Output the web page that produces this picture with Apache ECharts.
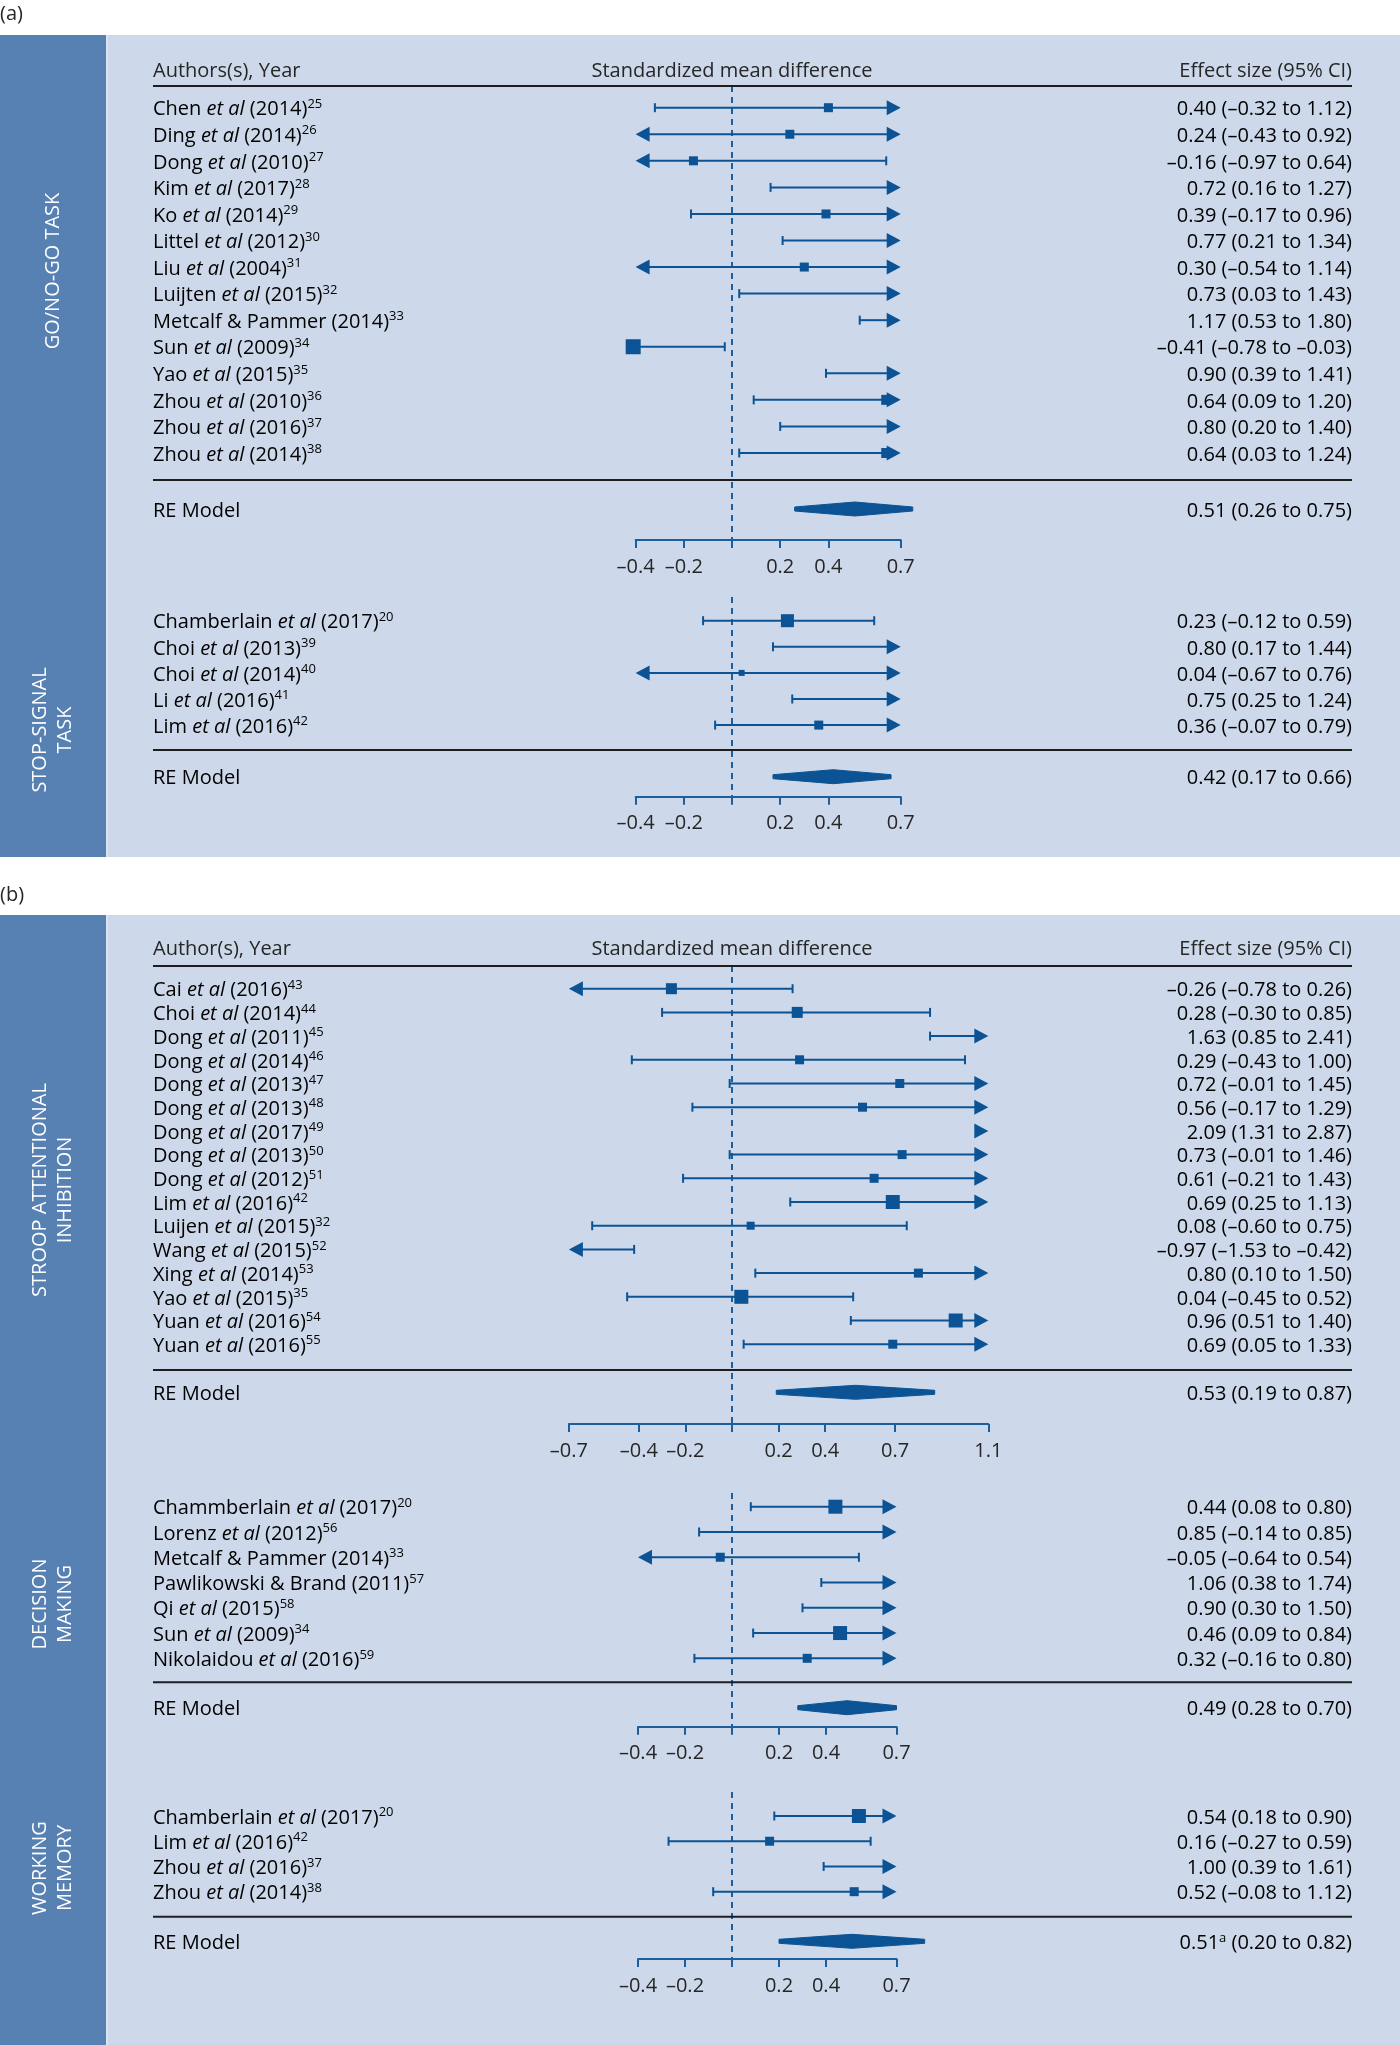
<!DOCTYPE html>
<html>
<head>
<meta charset="utf-8">
<script src="https://cdn.jsdelivr.net/npm/echarts@6/dist/echarts.min.js"></script>
<style>
  html, body { margin: 0; padding: 0; background: #ffffff; }
  #chart { width: 1400px; height: 2045px; }
</style>
</head>
<body>
<div id="chart"></div>
<script>
// ---------------- DATA ----------------
// (a) Go/No-Go task
const goNoGoLabels = ["Chen et al (2014)", "Ding et al (2014)", "Dong et al (2010)", "Kim et al (2017)", "Ko et al (2014)", "Littel et al (2012)", "Liu et al (2004)", "Luijten et al (2015)", "Metcalf & Pammer (2014)", "Sun et al (2009)", "Yao et al (2015)", "Zhou et al (2010)", "Zhou et al (2016)", "Zhou et al (2014)"];
const goNoGoRefs = [25, 26, 27, 28, 29, 30, 31, 32, 33, 34, 35, 36, 37, 38];
const goNoGoES = [0.40, 0.24, -0.16, 0.72, 0.39, 0.77, 0.30, 0.73, 1.17, -0.41, 0.90, 0.64, 0.80, 0.64];
const goNoGoLow = [-0.32, -0.43, -0.97, 0.16, -0.17, 0.21, -0.54, 0.03, 0.53, -0.78, 0.39, 0.09, 0.20, 0.03];
const goNoGoHigh = [1.12, 0.92, 0.64, 1.27, 0.96, 1.34, 1.14, 1.43, 1.80, -0.03, 1.41, 1.20, 1.40, 1.24];
const goNoGoWeight = [9, 9, 9, 9, 9, 9, 9, 9, 9, 15, 9, 10, 9, 10];
const goNoGoRE = [0.51, 0.26, 0.75];

// (a) Stop-signal task
const stopLabels = ["Chamberlain et al (2017)", "Choi et al (2013)", "Choi et al (2014)", "Li et al (2016)", "Lim et al (2016)"];
const stopRefs = [20, 39, 40, 41, 42];
const stopES = [0.23, 0.80, 0.04, 0.75, 0.36];
const stopLow = [-0.12, 0.17, -0.67, 0.25, -0.07];
const stopHigh = [0.59, 1.44, 0.76, 1.24, 0.79];
const stopWeight = [13, 9, 6, 9, 9];
const stopRE = [0.42, 0.17, 0.66];

// (b) Stroop attentional inhibition
const stroopLabels = ["Cai et al (2016)", "Choi et al (2014)", "Dong et al (2011)", "Dong et al (2014)", "Dong et al (2013)", "Dong et al (2013)", "Dong et al (2017)", "Dong et al (2013)", "Dong et al (2012)", "Lim et al (2016)", "Luijen et al (2015)", "Wang et al (2015)", "Xing et al (2014)", "Yao et al (2015)", "Yuan et al (2016)", "Yuan et al (2016)"];
const stroopRefs = [43, 44, 45, 46, 47, 48, 49, 50, 51, 42, 32, 52, 53, 35, 54, 55];
const stroopES = [-0.26, 0.28, 1.63, 0.29, 0.72, 0.56, 2.09, 0.73, 0.61, 0.69, 0.08, -0.97, 0.80, 0.04, 0.96, 0.69];
const stroopLow = [-0.78, -0.30, 0.85, -0.43, -0.01, -0.17, 1.31, -0.01, -0.21, 0.25, -0.60, -1.53, 0.10, -0.45, 0.51, 0.05];
const stroopHigh = [0.26, 0.85, 2.41, 1.00, 1.45, 1.29, 2.87, 1.46, 1.43, 1.13, 0.75, -0.42, 1.50, 0.52, 1.40, 1.33];
const stroopWeight = [11, 11, 9, 9, 9, 9, 9, 9, 9, 14, 8, 9, 9, 14, 14, 9];
const stroopRE = [0.53, 0.19, 0.87];

// (b) Decision making
const decisionLabels = ["Chammberlain et al (2017)", "Lorenz et al (2012)", "Metcalf & Pammer (2014)", "Pawlikowski & Brand (2011)", "Qi et al (2015)", "Sun et al (2009)", "Nikolaidou et al (2016)"];
const decisionRefs = [20, 56, 33, 57, 58, 34, 59];
const decisionES = [0.44, 0.85, -0.05, 1.06, 0.90, 0.46, 0.32];
const decisionLow = [0.08, -0.14, -0.64, 0.38, 0.30, 0.09, -0.16];
const decisionHigh = [0.80, 0.85, 0.54, 1.74, 1.50, 0.84, 0.80];
const decisionWeight = [14, 9, 9, 9, 9, 14, 9];
const decisionRE = [0.49, 0.28, 0.70];

// (b) Working memory
const memoryLabels = ["Chamberlain et al (2017)", "Lim et al (2016)", "Zhou et al (2016)", "Zhou et al (2014)"];
const memoryRefs = [20, 42, 37, 38];
const memoryES = [0.54, 0.16, 1.00, 0.52];
const memoryLow = [0.18, -0.27, 0.39, -0.08];
const memoryHigh = [0.90, 0.59, 1.61, 1.12];
const memoryWeight = [14, 9, 9, 9];
const memoryRE = [0.51, 0.20, 0.82];
const memoryRENote = "a";

// Axis ticks
const shortTicks = [-0.4, -0.2, 0, 0.2, 0.4, 0.7];
const shortTickLabels = [-0.4, -0.2, 0.2, 0.4, 0.7];
const longTicks = [-0.7, -0.4, -0.2, 0, 0.2, 0.4, 0.7, 1.1];
const longTickLabels = [-0.7, -0.4, -0.2, 0.2, 0.4, 0.7, 1.1];

// Side titles
const sideTitles = ["GO/NO-GO TASK", "STOP-SIGNAL\nTASK", "STROOP ATTENTIONAL\nINHIBITION", "DECISION\nMAKING", "WORKING\nMEMORY"];

// ---------------- LAYOUT / STYLE ----------------
const W = 1400, H = 2045;
const ZERO_X = 732;
const LABEL_X = 153, RIGHT_X = 1352;
const TEXT_DY = 2;
const FONT = '"Open Sans", "Noto Sans", sans-serif';
const TEXT = '#262626';
const MARK = '#0b5394';
const AXIS = '#1d5f9c';
const BG = '#cdd9ea';
const STRIP = '#5780b3';
const FS = 20;

const sections = [
  { labels: goNoGoLabels, refs: goNoGoRefs, es: goNoGoES, lo: goNoGoLow, hi: goNoGoHigh, w: goNoGoWeight, re: goNoGoRE, reNote: '',
    min: -0.4, max: 0.7, ppu: 241, ticks: shortTicks, tickLabels: shortTickLabels,
    first: 107.7, step: 26.56, top: 86, axisY: 540, reY: 509, sepY: 480, sideY: 271, title: sideTitles[0] },
  { labels: stopLabels, refs: stopRefs, es: stopES, lo: stopLow, hi: stopHigh, w: stopWeight, re: stopRE, reNote: '',
    min: -0.4, max: 0.7, ppu: 241, ticks: shortTicks, tickLabels: shortTickLabels,
    first: 620.7, step: 26.1, top: 597, axisY: 796.7, reY: 776.7, sepY: 750, sideY: 730, title: sideTitles[1] },
  { labels: stroopLabels, refs: stroopRefs, es: stroopES, lo: stroopLow, hi: stroopHigh, w: stroopWeight, re: stroopRE, reNote: '',
    min: -0.7, max: 1.1, ppu: 233, ticks: longTicks, tickLabels: longTickLabels,
    first: 988.7, step: 23.7, top: 966, axisY: 1424, reY: 1392.3, sepY: 1370, sideY: 1190, title: sideTitles[2] },
  { labels: decisionLabels, refs: decisionRefs, es: decisionES, lo: decisionLow, hi: decisionHigh, w: decisionWeight, re: decisionRE, reNote: '',
    min: -0.4, max: 0.7, ppu: 235, ticks: shortTicks, tickLabels: shortTickLabels,
    first: 1506.7, step: 25.27, top: 1493, axisY: 1726.7, reY: 1707.7, sepY: 1682.3, sideY: 1604, title: sideTitles[3] },
  { labels: memoryLabels, refs: memoryRefs, es: memoryES, lo: memoryLow, hi: memoryHigh, w: memoryWeight, re: memoryRE, reNote: memoryRENote,
    min: -0.4, max: 0.7, ppu: 235, ticks: shortTicks, tickLabels: shortTickLabels,
    first: 1816, step: 25.23, top: 1792, axisY: 1959, reY: 1941.3, sepY: 1916.7, sideY: 1868, title: sideTitles[4] }
];

function fmt(v) { return (v < 0 ? '\u2013' : '') + Math.abs(v).toFixed(2); }
function fmtTick(v) { return (v < 0 ? '\u2013' : '') + String(Math.abs(v)); }

const rich = {
  n: { fontFamily: FONT, fontSize: FS, color: TEXT, lineHeight: 24 },
  i: { fontFamily: FONT, fontSize: FS, color: TEXT, lineHeight: 24, fontStyle: 'italic' },
  s: { fontFamily: FONT, fontSize: 13, color: TEXT, lineHeight: 13, verticalAlign: 'top' }
};

function studyRich(label, ref) {
  const k = label.indexOf('et al');
  if (k >= 0) {
    return '{n|' + label.slice(0, k) + '}{i|et al}{n|' + label.slice(k + 5) + '}{s|' + ref + '}';
  }
  return '{n|' + label + '}{s|' + ref + '}';
}

function makeRender(sec) {
  return function (params, api) {
    const idx = api.value(0), es = api.value(1), lo = api.value(2), hi = api.value(3);
    const size = api.value(4), isRE = api.value(5);
    const X = v => api.coord([v, idx])[0];
    const y = api.coord([0, idx])[1];
    const ch = [];
    const AL = 14, AH = 7.5;
    const a = sec.min, b = sec.max;
    if (isRE) {
      const xl = X(lo), xm = X(es), xr = X(hi);
      ch.push({ type: 'polygon', shape: { points: [[xl, y - 2], [xm, y - 7], [xr, y - 2], [xr, y + 2], [xm, y + 7], [xl, y + 2]] },
        style: { fill: MARK, stroke: MARK, lineWidth: 1 } });
      ch.push({ type: 'text', style: { text: '{n|RE Model}', rich: rich, x: LABEL_X, y: y + TEXT_DY, align: 'left', verticalAlign: 'middle' } });
      const note = sec.reNote ? '{s|' + sec.reNote + '}' : '';
      ch.push({ type: 'text', style: { text: '{n|' + fmt(es) + '}' + note + '{n| (' + fmt(lo) + ' to ' + fmt(hi) + ')}', rich: rich,
        x: RIGHT_X, y: y + TEXT_DY, align: 'right', verticalAlign: 'middle' } });
    } else {
      // a point just beyond the lower limit is drawn as the clipped end itself
      const edgePoint = es < a && es >= a - 0.03;
      if (lo > b) {
        const t = X(b);
        ch.push({ type: 'polygon', shape: { points: [[t, y], [t - AL, y - AH], [t - AL, y + AH]] }, style: { fill: MARK } });
      } else if (hi < a) {
        const t = X(a);
        ch.push({ type: 'polygon', shape: { points: [[t, y], [t + AL, y - AH], [t + AL, y + AH]] }, style: { fill: MARK } });
      } else {
        let x1, x2;
        if (edgePoint) {
          x1 = X(es);
        } else if (lo < a) {
          const t = X(a);
          ch.push({ type: 'polygon', shape: { points: [[t, y], [t + AL, y - AH], [t + AL, y + AH]] }, style: { fill: MARK } });
          x1 = t + AL - 1;
        } else {
          x1 = X(lo);
          ch.push({ type: 'line', shape: { x1: x1, y1: y - 4.5, x2: x1, y2: y + 4.5 }, style: { stroke: MARK, lineWidth: 2 } });
        }
        if (hi > b) {
          const t = X(b);
          ch.push({ type: 'polygon', shape: { points: [[t, y], [t - AL, y - AH], [t - AL, y + AH]] }, style: { fill: MARK } });
          x2 = t - AL + 1;
        } else {
          x2 = X(hi);
          ch.push({ type: 'line', shape: { x1: x2, y1: y - 4.5, x2: x2, y2: y + 4.5 }, style: { stroke: MARK, lineWidth: 2 } });
        }
        ch.push({ type: 'line', shape: { x1: x1, y1: y, x2: x2, y2: y }, style: { stroke: MARK, lineWidth: 2 } });
        if ((es >= a && es <= b) || edgePoint) {
          const cx = X(es);
          ch.push({ type: 'rect', shape: { x: cx - size / 2, y: y - size / 2, width: size, height: size }, style: { fill: MARK } });
        }
      }
      const di = params.dataIndex;
      ch.push({ type: 'text', style: { text: studyRich(sec.labels[di], sec.refs[di]), rich: rich, x: LABEL_X, y: y + TEXT_DY, align: 'left', verticalAlign: 'middle' } });
      ch.push({ type: 'text', style: { text: '{n|' + fmt(es) + ' (' + fmt(lo) + ' to ' + fmt(hi) + ')}', rich: rich, x: RIGHT_X, y: y + TEXT_DY, align: 'right', verticalAlign: 'middle' } });
    }
    return { type: 'group', children: ch };
  };
}

const grid = [], xAxis = [], yAxis = [], series = [];
sections.forEach(function (sec, k) {
  const yMin = (sec.top - sec.first) / sec.step;
  const yMax = (sec.axisY - sec.first) / sec.step;
  const reIdx = (sec.reY - sec.first) / sec.step;
  grid.push({ left: ZERO_X + sec.min * sec.ppu, right: W - (ZERO_X + sec.max * sec.ppu), top: sec.top, bottom: H - sec.axisY, containLabel: false });
  xAxis.push({
    gridIndex: k, type: 'value', min: sec.min, max: sec.max,
    axisLine: { show: true, onZero: false, lineStyle: { color: AXIS, width: 2 } },
    axisTick: { show: true, inside: false, length: 8, customValues: sec.ticks, lineStyle: { color: AXIS, width: 2 } },
    axisLabel: { show: true, customValues: sec.tickLabels, formatter: fmtTick, color: TEXT, fontSize: FS, fontFamily: FONT, margin: 17 },
    splitLine: { show: false }
  });
  yAxis.push({ gridIndex: k, type: 'value', inverse: true, min: yMin, max: yMax, show: false, splitLine: { show: false } });
  series.push({
    type: 'line', xAxisIndex: k, yAxisIndex: k, data: [[0, yMin], [0, yMax]], symbol: 'none', silent: true, z: 1,
    lineStyle: { color: AXIS, width: 2, type: [6, 5] }
  });
  const rows = sec.labels.map(function (l, i) { return [i, sec.es[i], sec.lo[i], sec.hi[i], sec.w[i], 0]; });
  rows.push([reIdx, sec.re[0], sec.re[1], sec.re[2], 0, 1]);
  series.push({
    type: 'custom', xAxisIndex: k, yAxisIndex: k, data: rows, renderItem: makeRender(sec), clip: false, z: 3,
    encode: { x: 1, y: 0 }
  });
});

// Decorations
const graphic = [];
const panels = [{ label: '(a)', labelY: 14, top: 35, bottom: 857 }, { label: '(b)', labelY: 895, top: 915, bottom: 2045 }];
panels.forEach(function (p) {
  graphic.push({ type: 'rect', z: -10, shape: { x: 0, y: p.top, width: W, height: p.bottom - p.top }, style: { fill: BG } });
  graphic.push({ type: 'rect', z: -9, shape: { x: 0, y: p.top, width: 106, height: p.bottom - p.top }, style: { fill: STRIP } });
  graphic.push({ type: 'rect', z: -9, shape: { x: 106, y: p.top, width: 2, height: p.bottom - p.top }, style: { fill: '#dbe4f0' } });
  graphic.push({ type: 'text', z: 10, x: 0, y: p.labelY, style: { text: p.label, fill: TEXT, fontSize: FS, fontFamily: FONT, textAlign: 'left', textVerticalAlign: 'middle' } });
});
const headers = [{ y: 71, lineY: 86, left: 'Authors(s), Year' }, { y: 949, lineY: 966, left: 'Author(s), Year' }];
headers.forEach(function (h) {
  graphic.push({ type: 'text', z: 10, x: LABEL_X, y: h.y, style: { text: h.left, fill: TEXT, fontSize: FS, fontFamily: FONT, textAlign: 'left', textVerticalAlign: 'middle' } });
  graphic.push({ type: 'text', z: 10, x: ZERO_X, y: h.y, style: { text: 'Standardized mean difference', fill: TEXT, fontSize: FS, fontFamily: FONT, textAlign: 'center', textVerticalAlign: 'middle' } });
  graphic.push({ type: 'text', z: 10, x: RIGHT_X, y: h.y, style: { text: 'Effect size (95% CI)', fill: TEXT, fontSize: FS, fontFamily: FONT, textAlign: 'right', textVerticalAlign: 'middle' } });
  graphic.push({ type: 'line', z: 10, shape: { x1: LABEL_X, y1: h.lineY, x2: RIGHT_X, y2: h.lineY }, style: { stroke: '#1e1e1e', lineWidth: 2 } });
});
sections.forEach(function (sec) {
  graphic.push({ type: 'line', z: 10, shape: { x1: LABEL_X, y1: sec.sepY, x2: RIGHT_X, y2: sec.sepY }, style: { stroke: '#1e1e1e', lineWidth: 2 } });
  graphic.push({ type: 'text', z: 10, x: 53, y: sec.sideY, rotation: Math.PI / 2,
    style: { text: sec.title, fill: '#ffffff', fontSize: FS, fontFamily: FONT, textAlign: 'center', textVerticalAlign: 'middle', lineHeight: 25 } });
});

const chart = echarts.init(document.getElementById('chart'), null, { renderer: 'canvas', width: W, height: H });
chart.setOption({
  animation: false,
  backgroundColor: '#ffffff',
  grid: grid, xAxis: xAxis, yAxis: yAxis, series: series, graphic: graphic
});
</script>
</body>
</html>
